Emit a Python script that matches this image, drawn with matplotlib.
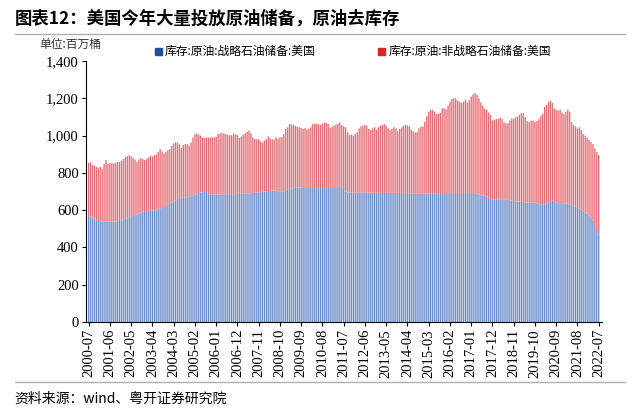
import numpy as np
import pandas as pd
import matplotlib
matplotlib.use('Agg')
import matplotlib.pyplot as plt
from matplotlib.ticker import FuncFormatter

plt.rcParams['font.family'] = ['Noto Sans CJK SC', 'DejaVu Sans']

# monthly, 2000-07 .. 2022-07, million barrels
months = pd.date_range('2000-07-01', '2022-07-01', freq='MS').strftime('%Y-%m').tolist()

spr = [
    568, 566, 562, 555, 545, 542,
    540, 539, 539, 539, 539, 539, 539, 540, 540, 541, 542, 544,
    549, 553, 557, 561, 565, 569, 573, 577, 582, 587, 593, 595,
    596, 597, 598, 599, 600, 600, 603, 607, 612, 617, 622, 628,
    634, 641, 646, 651, 655, 660, 664, 666, 668, 670, 672, 674,
    678, 683, 688, 692, 695, 697, 698, 698, 686, 684, 683, 683,
    684, 684, 685, 685, 686, 686, 686, 686, 686, 686, 687, 687,
    687, 688, 688, 688, 689, 690, 691, 692, 693, 694, 695, 697,
    699, 701, 702, 703, 704, 705, 705, 705, 702, 701, 701, 702,
    708, 712, 714, 716, 718, 720, 721, 722, 723, 724, 724, 724,
    724, 724, 724, 724, 724, 724, 724, 724, 724, 724, 724, 724,
    724, 724, 724, 724, 724, 724, 718, 700, 695, 695, 695, 695,
    694, 694, 694, 694, 694, 694, 694, 694, 694, 694, 694, 694,
    693, 693, 693, 693, 693, 693, 693, 693, 693, 693, 693, 693,
    692, 692, 692, 692, 690, 688, 688, 688, 688, 688, 688, 688,
    689, 689, 690, 691, 691, 691, 692, 692, 692, 692, 692, 692,
    692, 692, 692, 692, 692, 692, 692, 692, 692, 692, 692, 692,
    692, 692, 691, 688, 685, 681, 679, 677, 673, 666, 660, 659,
    659, 659, 658, 657, 657, 656, 655, 655, 654, 651, 649, 648,
    647, 646, 645, 644, 641, 641, 641, 641, 641, 641, 635, 632,
    632, 632, 632, 636, 641, 649, 652, 645, 640, 638, 638, 638,
    638, 636, 634, 632, 627, 621, 618, 612, 608, 604, 594, 588,
    582, 572, 562, 545, 520, 494, 471,
]

non_spr = [
    287, 291, 282, 284, 287, 284,
    293, 282, 309, 330, 309, 316, 312, 311, 315, 318, 317, 322,
    326, 332, 333, 335, 325, 311, 299, 281, 290, 293, 281, 274,
    278, 286, 294, 288, 296, 300, 309, 321, 304, 288, 292, 294,
    294, 303, 312, 313, 307, 292, 270, 284, 287, 285, 274, 290,
    312, 325, 324, 313, 305, 293, 290, 293, 304, 306, 308, 308,
    311, 325, 327, 331, 326, 323, 319, 316, 316, 325, 321, 317,
    300, 308, 317, 325, 331, 337, 321, 299, 289, 287, 285, 273,
    263, 274, 280, 293, 281, 275, 275, 286, 282, 289, 292, 307,
    328, 333, 349, 344, 341, 332, 327, 323, 318, 312, 317, 308,
    314, 321, 339, 342, 339, 337, 335, 339, 346, 344, 339, 317,
    324, 330, 336, 339, 346, 333, 332, 345, 323, 308, 310, 305,
    315, 324, 345, 356, 360, 363, 360, 342, 336, 345, 351, 338,
    352, 361, 364, 370, 361, 346, 337, 343, 352, 346, 330, 343,
    353, 362, 365, 363, 360, 344, 335, 330, 330, 351, 360, 360,
    386, 415, 439, 447, 447, 438, 425, 425, 430, 455, 455, 448,
    469, 491, 505, 509, 509, 496, 491, 484, 491, 502, 487, 498,
    518, 530, 539, 531, 516, 498, 482, 468, 467, 459, 451, 423,
    427, 431, 432, 440, 433, 416, 411, 411, 427, 442, 441, 451,
    455, 465, 477, 476, 459, 437, 431, 440, 440, 434, 443, 456,
    473, 485, 523, 529, 539, 539, 524, 502, 500, 495, 502, 487,
    477, 493, 506, 497, 445, 436, 432, 427, 437, 428, 415, 412,
    408, 406, 403, 410, 412, 417, 425,
]

tick_labels = months[::11]

blue = '#6a8cca'
red = '#e66e75'
serif = 'Liberation Serif'

fig = plt.figure(figsize=(6.4, 4.18), dpi=100)
ax = fig.add_axes([0.134, 0.2297, 0.806, 0.624])

x = np.arange(len(months))
b1 = ax.bar(x, spr, width=0.7, color=blue, linewidth=0)
b2 = ax.bar(x, non_spr, width=0.7, bottom=spr, color=red, linewidth=0)
for p in list(b1) + list(b2):
    p.set_snap(False)

ax.set_xlim(-1.5, len(months) + 0.5)
ax.set_ylim(0, 1400)
ax.set_yticks(range(0, 1401, 200))
ax.yaxis.set_major_formatter(FuncFormatter(lambda v, p: f'{int(v):,}'))
ax.set_xticks(x[::11])
ax.set_xticklabels(tick_labels, rotation=90, fontfamily=serif, fontsize=10.5)
for lab in ax.get_yticklabels():
    lab.set_fontfamily(serif)
    lab.set_fontsize(10.5)
ax.tick_params(axis='both', direction='out', length=3, width=0.8, pad=2)
ax.spines['top'].set_visible(False)
ax.spines['right'].set_visible(False)

# title and header
fig.text(0.023, 0.955, '图表12：美国今年大量投放原油储备，原油去库存',
         fontsize=12.5, fontweight='bold', va='center', ha='left')
fig.add_artist(plt.Line2D([0.023, 0.977], [0.918, 0.918], color='#b0b0b0', lw=1))
fig.text(0.062, 0.893, '单位:百万桶', fontsize=8.5, va='center', color='#333333')

fig.patches.append(plt.Rectangle((0.242, 0.868), 0.011, 0.017, color='#1f4ea0',
                                 transform=fig.transFigure, figure=fig))
fig.text(0.258, 0.876, '库存:原油:战略石油储备:美国', fontsize=8.5, va='center')
fig.patches.append(plt.Rectangle((0.591, 0.868), 0.011, 0.017, color='#d9232e',
                                 transform=fig.transFigure, figure=fig))
fig.text(0.607, 0.876, '库存:原油:非战略石油储备:美国', fontsize=8.5, va='center')

# footer
fig.add_artist(plt.Line2D([0.023, 0.977], [0.086, 0.086], color='#b0b0b0', lw=1))
fig.text(0.023, 0.047, '资料来源：wind、粤开证券研究院', fontsize=10,
         style='italic', va='center')

fig.savefig('out.png', dpi=100)
